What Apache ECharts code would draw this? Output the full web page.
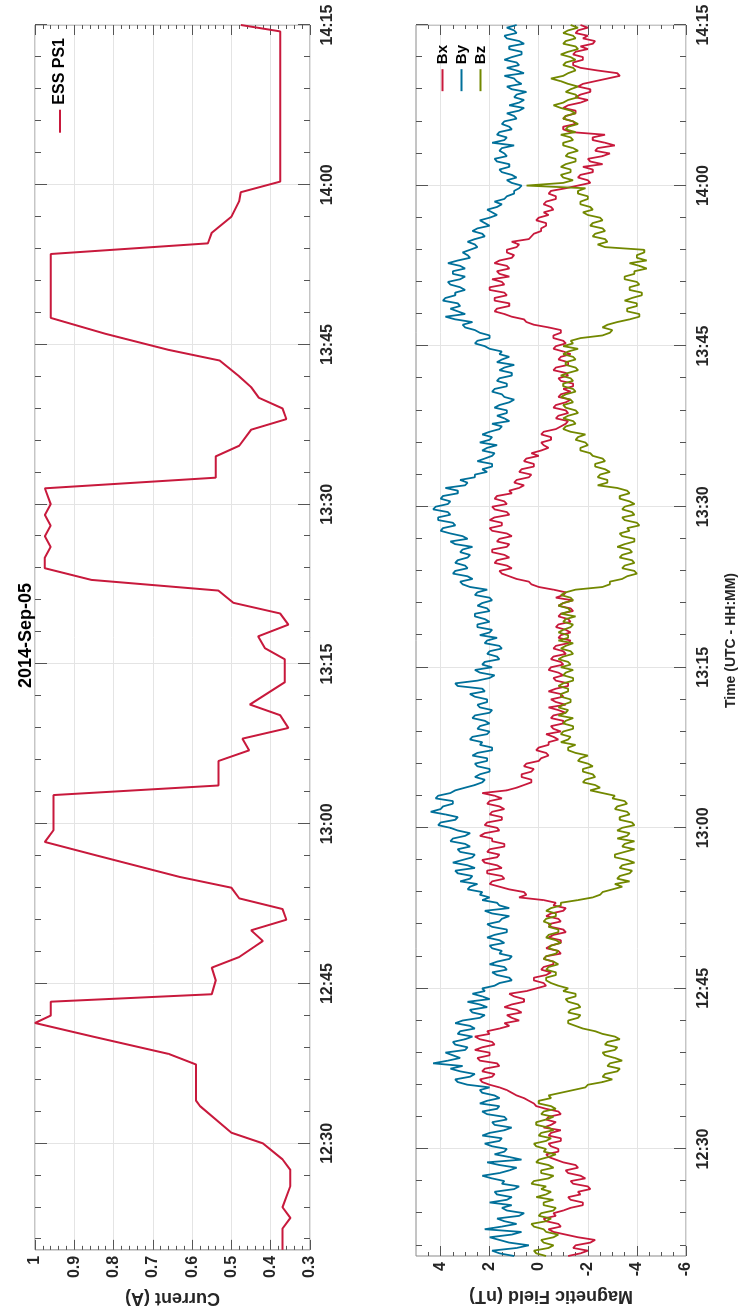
<!DOCTYPE html>
<html>
<head>
<meta charset="utf-8">
<script src="https://cdn.jsdelivr.net/npm/echarts@6/dist/echarts.min.js"></script>
<style>
  html, body { margin: 0; padding: 0; background: #fff; width: 739px; height: 1315px; overflow: hidden; }
  #chart { position: absolute; left: 0; top: 0; width: 1315px; height: 739px;
           transform-origin: 0 0; transform: translateY(1315px) rotate(-90deg); }
</style>
</head>
<body>
<div id="chart"></div>
<script>
// time in minutes after 12:00 UTC
const currentTime = [
  20, 22, 23, 24, 26, 27.5, 28.5, 30, 31, 33.5,
  34, 37.4, 38.4, 40, 41.3, 42, 43.3, 44, 45.3, 46.5,
  47.5, 48.5, 49, 50, 51, 52, 53, 54, 55, 57,
  58.3, 59.4, 62.7, 63.6, 65.9, 66.9, 68, 69, 70.2, 71.2,
  73.3, 75.45, 76.5, 77.6, 78.7, 79.75, 80.75, 81.9, 82.9, 84,
  85, 86, 87, 88, 89, 90, 91.5, 92.5, 94.5, 95.5,
  97, 98, 99, 100, 101, 102, 103.5, 104.5, 106, 107.5,
  113.5, 114.5, 115.5, 117, 118.5, 119.3, 120.3, 134.4, 135
]
const currentAmps = [
  0.37, 0.37, 0.35, 0.37, 0.35, 0.35, 0.37, 0.42, 0.5, 0.58,
  0.59, 0.59, 0.66, 0.85, 1.0, 0.96, 0.96, 0.55, 0.54, 0.55,
  0.48, 0.44, 0.42, 0.45, 0.36, 0.37, 0.48, 0.5, 0.63, 0.84,
  0.975, 0.953, 0.953, 0.533, 0.533, 0.455, 0.472, 0.355, 0.376, 0.453,
  0.364, 0.364, 0.415, 0.432, 0.355, 0.376, 0.495, 0.533, 0.856, 0.975,
  0.975, 0.96, 0.975, 0.96, 0.975, 0.96, 0.975, 0.54, 0.54, 0.48,
  0.45, 0.36, 0.37, 0.43, 0.45, 0.48, 0.53, 0.66, 0.82, 0.96,
  0.96, 0.56, 0.55, 0.5, 0.48, 0.476, 0.376, 0.376, 0.476
]

// magnetometer samples every 0.25 min from 12:20 to 14:15
const magStart = 20
const magStep = 0.25
const bx = [
  -1.2, -1.7, -2.0, -1.4, -1.5, -2.1, -2.3, -1.6, -1.1, -0.6, -0.4, -0.9, -0.8, -0.3, -0.2, -0.7, -0.6, -1.0, -1.3, -1.8,
  -1.8, -1.3, -1.2, -1.7, -1.6, -2.1, -2.0, -1.4, -1.3, -1.9, -1.7, -1.2, -1.1, -1.6, -1.5, -1.0, -0.7, -0.4, -0.3, -0.8,
  -0.8, -0.5, -0.4, -0.9, -0.9, -0.4, -0.5, -0.9, -0.2, -0.5, -0.7, -0.3, -0.4, -0.9, -0.8, -0.3, 0.1, 0.2, 0.4, 0.6,
  0.9, 1.1, 1.3, 1.6, 2.0, 2.3, 2.4, 1.9, 1.8, 2.3, 2.2, 1.6, 1.7, 2.4, 2.5, 2.0, 2.0, 2.6, 2.3, 1.8,
  1.9, 2.4, 2.6, 2.0, 2.1, 1.6, 1.2, 1.4, 0.8, 1.1, 1.3, 0.7, 0.9, 1.4, 1.1, 0.6, 0.6, 1.0, 1.2, 0.5,
  0.1, -0.3, -0.2, 0.2, 0.2, -0.3, -0.5, -0.1, -0.2, -0.6, -0.6, -0.2, -0.3, -0.9, -0.8, -0.3, -0.5, -0.9, -0.9, -0.4,
  -0.6, -1.1, -1.0, -0.5, -0.4, -0.9, -0.8, -0.3, -0.5, -1.0, -1.1, -0.6, -0.7, -0.2, 0.8, 0.5, 0.6, 1.2, 1.6, 2.0,
  1.9, 1.4, 1.5, 2.1, 2.1, 1.5, 1.7, 2.2, 2.3, 1.7, 1.6, 2.1, 2.0, 1.4, 1.4, 1.9, 1.9, 2.4, 2.2, 1.6,
  1.7, 2.2, 2.1, 1.5, 1.5, 2.0, 1.9, 1.4, 1.6, 2.1, 2.0, 1.5, 1.8, 2.3, 1.3, 0.9, 0.6, 0.3, 0.3, 0.7,
  0.7, 0.3, 0.2, 0.6, 0.5, 0.0, -0.1, -0.4, -0.3, 0.1, 0.0, -0.4, -0.4, -0.8, -0.6, -0.3, -0.9, -0.6, -0.5, -1.0,
  -1.0, -0.5, -0.6, -1.1, -0.8, -0.4, -1.1, -0.7, -0.5, -1.0, -0.9, -0.4, -0.7, -1.2, -1.2, -0.7, -0.6, -1.0, -0.8, -0.4,
  -0.5, -1.0, -0.9, -0.5, -0.6, -1.1, -1.0, -0.6, -0.7, -1.2, -1.3, -0.8, -0.9, -1.3, -1.1, -0.7, -0.8, -1.3, -1.2, -0.8,
  -0.9, -1.4, -1.3, -0.8, -1.0, -1.4, -0.7, -1.0, -1.1, -0.6, 0.0, 0.3, 0.4, 0.9, 1.2, 1.5, 1.6, 1.1, 1.3, 1.8,
  1.7, 1.2, 1.4, 1.9, 1.9, 1.3, 1.2, 1.7, 1.6, 1.1, 1.3, 1.9, 2.0, 1.5, 1.5, 2.0, 1.8, 1.2, 1.3, 1.8,
  1.9, 1.3, 1.4, 1.8, 1.7, 1.1, 1.2, 0.8, 0.6, 1.0, 0.9, 0.4, 0.3, 0.8, 0.7, 0.2, 0.2, 0.6, 0.5, 0.0,
  0.3, -0.1, -0.4, -0.2, -0.1, -0.5, -0.5, -0.1, -0.2, -0.7, -0.9, -1.1, -1.2, -0.7, -0.8, -1.2, -1.1, -0.6, -0.7, -1.1,
  -1.3, -0.8, -0.9, -1.3, -1.0, -1.4, -1.4, -0.9, -0.8, -1.2, -1.1, -0.6, -0.7, -1.2, -1.2, -0.8, -0.9, -1.3, -1.0, -0.6,
  -0.7, -1.1, -1.0, -0.6, -0.6, -0.9, -0.9, -0.4, 0.2, 0.5, 0.6, 1.1, 1.4, 1.8, 1.7, 1.2, 1.2, 1.8, 1.8, 1.3,
  1.4, 2.0, 2.0, 1.4, 1.5, 1.9, 1.2, 1.6, 1.7, 1.2, 1.3, 1.8, 1.6, 1.1, 1.0, 1.3, 1.3, 0.9, 0.8, 1.1,
  0.4, 0.3, 0.2, -0.1, -0.1, -0.3, -0.3, 0.1, 0.0, -0.4, -0.2, -0.6, -0.5, -0.2, -0.3, -0.7, -0.7, -0.4, -0.5, -1.1,
  -1.6, -2.1, -2.0, -1.6, -1.7, -2.2, -2.2, -1.8, -2.6, -2.1, -2.0, -2.6, -2.9, -2.3, -2.4, -3.1, -2.7, -2.2, -2.2, -2.7,
  -1.3, -1.0, -1.0, -1.5, -1.4, -1.0, -1.1, -1.5, -1.5, -1.0, -1.2, -1.7, -2.0, -1.5, -1.7, -2.1, -2.1, -1.6, -1.8, -2.3,
  -2.8, -3.3, -3.2, -2.4, -1.7, -1.4, -1.4, -1.8, -1.8, -1.4, -1.5, -2.0, -1.7, -2.2, -2.3, -1.8, -2.0, -1.5, -1.6, -2.0,
  -1.7
]
const by = [
  1.0, 1.6, 1.9, 0.9, 0.4, 1.2, 1.6, 2.0, 1.1, 0.7, 2.2, 1.5, 0.9, 1.4, 1.7, 0.8, 0.6, 1.3, 1.5, 1.1,
  2.0, 1.3, 1.1, 1.7, 1.8, 1.0, 0.8, 1.5, 1.4, 1.9, 2.3, 1.6, 1.2, 0.9, 1.6, 2.1, 0.7, 1.2, 1.8, 1.4,
  1.3, 1.9, 2.2, 1.6, 1.5, 2.3, 2.0, 1.4, 1.1, 1.8, 1.9, 1.3, 1.4, 2.1, 2.3, 1.7, 1.6, 2.4, 2.1, 1.6,
  1.8, 2.3, 2.4, 2.0, 2.9, 3.3, 3.4, 2.8, 2.6, 3.2, 3.6, 3.1, 4.3, 3.7, 3.2, 3.5, 3.8, 3.0, 2.9, 3.4,
  3.5, 3.0, 2.7, 3.3, 3.2, 2.6, 2.8, 3.4, 3.1, 2.4, 2.2, 2.7, 2.8, 2.1, 2.4, 2.9, 2.0, 2.3, 2.7, 2.2,
  2.3, 1.8, 1.6, 1.1, 1.2, 1.7, 1.9, 1.3, 1.4, 2.0, 1.7, 1.2, 1.1, 1.6, 1.5, 1.9, 2.0, 1.4, 1.6, 2.1,
  1.8, 1.3, 1.3, 1.9, 2.1, 1.6, 1.5, 1.2, 1.9, 2.2, 1.2, 1.6, 1.7, 2.3, 2.0, 2.4, 2.3, 2.9, 2.8, 2.5,
  3.2, 2.8, 2.7, 3.3, 3.4, 2.6, 2.9, 3.5, 3.1, 2.7, 2.6, 3.2, 3.3, 2.8, 3.0, 3.6, 3.5, 3.0, 2.8, 3.3,
  3.6, 4.1, 4.0, 3.4, 3.3, 3.8, 4.4, 4.0, 3.9, 3.5, 3.5, 4.2, 4.1, 3.6, 3.4, 3.0, 2.6, 2.3, 2.2, 2.6,
  2.4, 2.0, 2.0, 2.5, 2.6, 2.1, 2.1, 2.7, 2.5, 1.9, 1.9, 2.4, 2.3, 2.8, 2.7, 2.1, 2.0, 2.5, 2.4, 2.0,
  2.2, 2.7, 2.6, 2.0, 1.9, 2.4, 2.5, 2.1, 2.1, 2.6, 2.8, 2.2, 2.3, 3.3, 3.4, 2.5, 2.0, 1.8, 2.4, 2.6,
  1.9, 2.3, 2.2, 1.6, 1.7, 2.1, 2.0, 1.5, 1.6, 2.2, 2.1, 1.7, 2.4, 2.0, 1.9, 2.5, 2.5, 2.0, 2.2, 2.6,
  2.6, 2.0, 2.1, 2.5, 2.3, 1.9, 2.0, 2.6, 2.5, 2.1, 2.8, 3.1, 3.2, 2.7, 2.9, 3.5, 3.4, 2.9, 3.0, 3.4,
  3.3, 2.9, 2.8, 3.2, 3.1, 2.7, 3.4, 3.6, 2.9, 3.1, 3.6, 4.0, 3.9, 3.4, 3.5, 4.1, 4.1, 3.6, 3.7, 4.3,
  4.2, 3.7, 3.6, 4.0, 3.9, 3.3, 3.3, 3.8, 3.0, 2.9, 3.2, 2.6, 2.6, 2.1, 2.3, 1.9, 1.9, 2.5, 2.2, 1.9,
  1.8, 2.3, 2.1, 1.7, 2.4, 2.0, 1.9, 2.3, 2.0, 1.6, 1.5, 1.9, 1.2, 1.4, 1.7, 1.3, 1.3, 1.8, 1.6, 1.2,
  1.0, 1.4, 1.5, 1.9, 1.8, 1.3, 1.3, 1.7, 1.6, 1.1, 1.1, 1.6, 1.4, 1.0, 1.7, 1.5, 1.2, 1.6, 1.5, 2.0,
  2.2, 2.6, 2.5, 2.0, 2.0, 2.4, 2.6, 3.0, 3.1, 2.7, 3.4, 3.8, 3.0, 3.3, 3.6, 3.2, 3.3, 3.9, 3.8, 3.4,
  3.4, 3.0, 3.2, 3.6, 3.7, 3.2, 3.0, 3.5, 3.5, 3.0, 3.2, 3.7, 3.3, 2.8, 2.9, 3.1, 2.8, 2.5, 2.6, 2.9,
  2.6, 2.2, 2.3, 2.7, 2.5, 2.0, 2.2, 2.4, 2.0, 1.7, 1.9, 2.1, 1.7, 1.5, 1.8, 1.4, 1.3, 1.0, 1.0, 0.8,
  0.7, 1.1, 1.3, 0.9, 1.1, 1.5, 1.6, 1.2, 1.2, 1.7, 1.8, 1.3, 1.4, 1.6, 1.5, 1.0, 1.9, 1.4, 1.3, 1.7,
  1.6, 1.1, 1.2, 1.5, 1.4, 0.9, 1.0, 1.3, 0.8, 0.6, 1.2, 0.8, 0.6, 1.0, 0.9, 0.5, 1.1, 1.3, 0.7, 0.9,
  1.0, 1.4, 0.6, 0.9, 1.3, 0.8, 0.9, 1.4, 1.1, 0.7, 0.7, 1.2, 1.2, 0.6, 0.8, 1.3, 1.4, 0.9, 1.0, 1.3,
  0.9
]
const bz = [
  -0.3, 0.1, 0.2, -0.4, -0.6, -0.2, -0.1, -0.6, -0.8, -0.3, -0.2, 0.2, 0.3, -0.3, -0.5, 0.0, -0.1, -0.6, -0.7, -0.2,
  -0.2, -0.6, 0.1, -0.3, -0.5, -0.1, -0.3, 0.3, 0.2, -0.4, -0.6, -0.1, -0.1, -0.6, -0.4, 0.1, 0.0, -0.4, -0.7, -0.2,
  -0.3, 0.1, 0.2, -0.3, -0.5, 0.0, -0.1, -0.6, -0.4, 0.1, 0.1, -0.3, -0.6, -0.1, -0.2, -0.7, -0.5, 0.0, 0.0, -0.5,
  -0.4, -0.9, -1.4, -1.9, -2.0, -2.6, -3.0, -2.6, -2.7, -3.2, -3.3, -2.8, -2.9, -3.4, -3.1, -2.7, -2.6, -3.1, -3.2, -2.7,
  -2.8, -3.3, -3.1, -2.6, -2.3, -1.8, -1.5, -1.2, -1.2, -1.6, -1.7, -1.2, -1.3, -1.7, -1.6, -1.2, -1.1, -1.5, -1.5, -1.0,
  -1.2, -0.8, -0.5, -0.3, -0.3, -0.7, -0.7, -0.3, -0.4, -0.8, -0.6, -0.2, -0.3, -0.7, -0.8, -0.4, -0.5, -0.9, -0.7, -0.3,
  -0.4, -0.8, -0.8, -0.4, -0.5, -0.2, -0.3, -0.7, -0.7, -0.3, -0.5, -0.9, -0.9, -1.6, -2.2, -2.5, -2.6, -3.0, -3.4, -3.1,
  -3.7, -3.2, -3.3, -3.7, -3.8, -3.3, -3.4, -3.9, -3.6, -3.1, -3.1, -3.5, -3.9, -3.4, -3.5, -3.9, -3.2, -3.6, -3.7, -3.2,
  -3.4, -3.9, -3.8, -3.3, -3.3, -3.7, -3.6, -3.1, -3.2, -3.6, -3.5, -3.0, -3.1, -2.6, -2.1, -2.5, -2.3, -1.8, -1.9, -2.3,
  -2.2, -1.8, -1.8, -2.2, -2.0, -1.6, -1.7, -2.0, -1.5, -1.2, -1.2, -1.5, -0.9, -1.2, -1.3, -0.9, -1.0, -1.4, -1.4, -1.0,
  -1.1, -1.4, -0.8, -1.1, -1.2, -0.8, -1.0, -1.3, -1.3, -0.9, -0.9, -1.2, -1.2, -0.8, -1.0, -1.4, -1.4, -1.0, -1.1, -1.4,
  -0.9, -1.3, -1.2, -0.8, -1.0, -1.4, -1.3, -0.9, -1.1, -1.4, -0.8, -1.2, -1.2, -0.8, -1.0, -1.3, -1.4, -1.0, -1.1, -1.5,
  -0.9, -1.3, -1.2, -0.8, -1.0, -1.4, -1.3, -0.9, -1.1, -1.5, -2.6, -2.9, -2.9, -3.4, -3.6, -4.0, -3.9, -3.4, -3.5, -3.9,
  -3.8, -3.3, -3.4, -3.8, -3.7, -3.2, -3.5, -3.9, -3.9, -3.4, -3.3, -3.7, -3.6, -4.1, -4.0, -3.5, -3.4, -3.9, -3.8, -3.4,
  -3.5, -3.9, -3.7, -3.3, -3.3, -3.7, -3.6, -3.2, -2.4, -2.8, -2.8, -2.4, -2.5, -2.9, -2.7, -2.3, -2.3, -2.7, -2.6, -2.2,
  -2.1, -1.7, -1.7, -2.0, -1.9, -1.5, -1.6, -1.9, -1.3, -1.0, -1.1, -1.5, -1.4, -1.0, -1.2, -1.6, -1.5, -1.1, -1.0, -1.4,
  -1.3, -0.9, -1.1, -1.5, -1.4, -1.0, -1.0, -1.4, -1.3, -0.9, -1.2, -1.6, -1.5, -1.1, -1.1, -1.5, -1.4, -1.0, -1.2, -1.6,
  -1.0, -1.4, -1.3, -1.7, -2.6, -2.9, -3.0, -2.6, -2.8, -3.2, -3.7, -4.1, -4.1, -3.6, -3.6, -4.0, -4.0, -3.5, -3.8, -4.2,
  -4.2, -3.7, -3.7, -4.1, -4.0, -3.5, -3.5, -3.9, -3.9, -4.4, -4.1, -3.7, -4.4, -4.0, -4.0, -4.3, -4.3, -2.7, -2.4, -2.8,
  -2.7, -2.2, -2.3, -2.7, -2.6, -2.1, -2.2, -2.6, -2.5, -2.0, -1.8, -2.2, -2.1, -1.7, -1.7, -2.0, -2.0, -1.6, -1.6, -1.9,
  0.5, -1.0, -1.4, -1.0, -0.9, -1.3, -1.3, -0.9, -1.1, -1.5, -1.5, -1.1, -1.2, -1.6, -1.4, -1.0, -1.0, -1.4, -1.3, -0.9,
  -1.5, -1.1, -1.2, -1.6, -1.4, -1.0, -1.1, -1.5, -1.3, -0.9, -0.6, -1.0, -1.2, -1.6, -1.5, -1.1, -1.3, -1.6, -1.2, -0.9,
  -0.5, -1.0, -1.2, -1.5, -1.4, -1.0, -1.1, -1.5, -1.3, -0.9, -1.2, -1.6, -1.5, -1.0, -1.1, -1.5, -1.4, -1.0, -1.2, -1.6,
  -1.3
]

const timeTicks = [30, 45, 60, 75, 90, 105, 120, 135]
const timeMinorTicks = [21, 24, 27, 33, 36, 39, 42, 48, 51, 54, 57, 63, 66, 69, 72, 78, 81, 84, 87, 93, 96, 99, 102, 108, 111, 114, 117, 123, 126, 129, 132]
const currentTicks = [0.3, 0.4, 0.5, 0.6, 0.7, 0.8, 0.9, 1]
const currentMinorTicks = [0.32, 0.34, 0.36, 0.38, 0.42, 0.44, 0.46, 0.48, 0.52, 0.54, 0.56, 0.58, 0.62, 0.64, 0.66, 0.68, 0.72, 0.74, 0.76, 0.78, 0.82, 0.84, 0.86, 0.88, 0.92, 0.94, 0.96, 0.98]
const magTicks = [-6, -4, -2, 0, 2, 4]
const magMinorTicks = [-5.5, -5, -4.5, -3.5, -3, -2.5, -1.5, -1, -0.5, 0.5, 1, 1.5, 2.5, 3, 3.5, 4.5]

const chart = echarts.init(document.getElementById('chart'))

const fontFamily = 'Liberation Sans, Arial, sans-serif'
const tickColor = '#555'
const gridColor = '#e4e4e4'
const red = '#C8193C', blue = '#00709A', green = '#728800'

const fmtTime = v => {
  const h = 12 + Math.floor(v / 60)
  const m = Math.round(v % 60)
  return h + ':' + (m < 10 ? '0' + m : m)
}

// one axis of a grid; label settings only on the main bottom/left axis
const makeAxis = (grid, pos, min, max, ticks, len, label, split) => ({
  type: 'value',
  gridIndex: grid,
  position: pos,
  offset: 0,
  min: min,
  max: max,
  axisLine: { show: false, onZero: false },
  axisTick: { show: true, inside: true, length: len, customValues: ticks, lineStyle: { color: tickColor, width: 1 } },
  axisLabel: label ? Object.assign({
    show: true,
    customValues: ticks,
    fontSize: 16,
    fontWeight: 'bold',
    fontFamily: fontFamily,
    color: '#262626'
  }, label) : { show: false },
  splitLine: { show: !!split, lineStyle: { color: gridColor, width: 1 } },
  minorTick: { show: false },
  minorSplitLine: { show: false }
})

const xAxes = []
const yAxes = []
;[0, 1].forEach(g => {
  xAxes.push(makeAxis(g, 'bottom', 20, 135, timeTicks, 12, { margin: 10, formatter: fmtTime }, true))
  xAxes.push(makeAxis(g, 'bottom', 20, 135, timeMinorTicks, 6))
  xAxes.push(makeAxis(g, 'top', 20, 135, timeTicks, 12))
  xAxes.push(makeAxis(g, 'top', 20, 135, timeMinorTicks, 6))
})
yAxes.push(makeAxis(0, 'left', 0.3, 1, currentTicks, 10, { margin: 6, formatter: v => (v === 1 ? '1' : v.toFixed(1)) }, true))
yAxes.push(makeAxis(0, 'left', 0.3, 1, currentMinorTicks, 4))
yAxes.push(makeAxis(0, 'right', 0.3, 1, currentTicks, 10))
yAxes.push(makeAxis(0, 'right', 0.3, 1, currentMinorTicks, 4))
yAxes.push(makeAxis(1, 'left', -6, 5, magTicks, 10, { margin: 6, formatter: v => String(v) }, true))
yAxes.push(makeAxis(1, 'left', -6, 5, magMinorTicks, 4))
yAxes.push(makeAxis(1, 'right', -6, 5, magTicks, 10))
yAxes.push(makeAxis(1, 'right', -6, 5, magMinorTicks, 4))

const nameStyle = { fontSize: 18, fontWeight: 'bold', fontFamily: fontFamily, color: '#262626' }
Object.assign(yAxes[0], { name: 'Current (A)', nameLocation: 'middle', nameGap: 33, nameTextStyle: nameStyle })
Object.assign(yAxes[4], { name: 'Magnetic Field (nT)', nameLocation: 'middle', nameGap: 27, nameTextStyle: nameStyle })
Object.assign(xAxes[4], { name: 'Time (UTC - HH:MM)', nameLocation: 'middle', nameGap: 38,
  nameTextStyle: Object.assign({}, nameStyle, { fontSize: 14 }) })

const magSeries = (name, values, color) => ({
  name: name,
  type: 'line',
  xAxisIndex: 4,
  yAxisIndex: 4,
  color: color,
  showSymbol: false,
  symbol: 'none',
  lineStyle: { color: color, width: 1.8 },
  data: values.map((v, i) => [magStart + i * magStep, v])
})

const option = {
  backgroundColor: '#fff',
  animation: false,
  title: {
    text: '2014-Sep-05',
    left: 622,
    top: 12,
    textStyle: { fontSize: 18, fontWeight: 'bold', fontFamily: fontFamily, color: '#000' }
  },
  grid: [
    { left: 59, right: 25, top: 35, height: 275, show: true, borderColor: '#8a8a8a', borderWidth: 1, backgroundColor: '#fff' },
    { left: 59, right: 25, top: 416, height: 276, show: true, borderColor: '#8a8a8a', borderWidth: 1, backgroundColor: '#fff' }
  ],
  legend: [
    {
      data: ['ESS PS1'], right: 33, top: 47, icon: 'rect', itemWidth: 23, itemHeight: 2,
      textStyle: { fontSize: 16, fontWeight: 'bold', fontFamily: fontFamily, color: '#000' }
    },
    {
      data: ['Bx', 'By', 'Bz'], orient: 'vertical', right: 40, top: 430, itemGap: 4,
      icon: 'rect', itemWidth: 22, itemHeight: 2,
      textStyle: { fontSize: 15, fontWeight: 'bold', fontFamily: fontFamily, color: '#000' }
    }
  ],
  xAxis: xAxes,
  yAxis: yAxes,
  series: [
    {
      name: 'ESS PS1',
      type: 'line',
      xAxisIndex: 0,
      yAxisIndex: 0,
      color: red,
      showSymbol: false,
      symbol: 'none',
      lineStyle: { color: red, width: 2 },
      data: currentTime.map((t, i) => [t, currentAmps[i]])
    },
    magSeries('Bx', bx, red),
    magSeries('By', by, blue),
    magSeries('Bz', bz, green)
  ]
}
chart.setOption(option)
</script>
</body>
</html>
